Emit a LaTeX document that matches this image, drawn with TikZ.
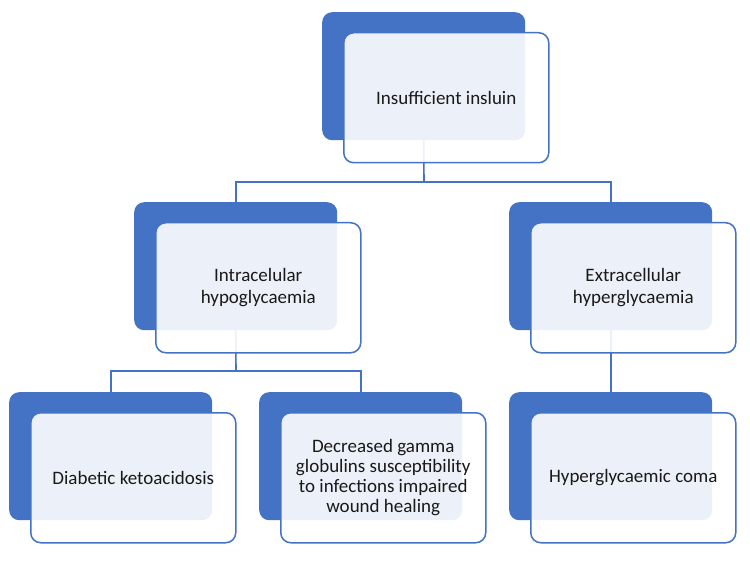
\documentclass[tikz,border=0pt]{standalone}
\usepackage{fontspec}
\setmainfont{Carlito}
\definecolor{sablue}{HTML}{4472C4}
\begin{document}
\begin{tikzpicture}[x=1pt,y=-1pt,
  backbox/.style={rectangle,rounded corners=10pt,fill=sablue,draw=none,
    minimum width=203pt,minimum height=128pt,inner sep=0pt,anchor=north west},
  frontbox/.style={rectangle,rounded corners=10pt,fill=white,fill opacity=0.9,
    text opacity=1,draw=sablue,draw opacity=1,line width=1.5pt,
    minimum width=205pt,minimum height=130pt,inner sep=2pt,anchor=north west,
    align=center,font=\fontsize{19}{22}\selectfont,text=black!90},
  conn/.style={draw=sablue,line width=1.6pt}]
\useasboundingbox (0,0) rectangle (750,572);
% back boxes
\node[backbox] (tb) at (322,12) {};
\node[backbox] (lb) at (134,202) {};
\node[backbox] (rb) at (509,202) {};
\node[backbox] (llb) at (9,392) {};
\node[backbox] (lmb) at (259,392) {};
\node[backbox] (rrb) at (509,392) {};
% connectors
\coordinate (j1) at (424,182);
\coordinate (j2) at (236,371);
\draw[conn] (tb.south) -- (j1);
\draw[conn] (lb.north) |- (j1) -| (rb.north);
\draw[conn] (lb.south) -- (j2);
\draw[conn] (llb.north) |- (j2) -| (lmb.north);
\draw[conn] (rb.south) -- (rrb.north);
% front boxes
\node[frontbox] (t) at (343,32) {Insufficient insluin};
\node[frontbox] (l) at (155,222) {Intracelular\\hypoglycaemia};
\node[frontbox] (r) at (530,222) {Extracellular\\hyperglycaemia};
\node[frontbox] (ll) at (30,412) {Diabetic ketoacidosis};
\node[frontbox,font=\fontsize{19}{20}\selectfont] (lm) at (280,412) {Decreased gamma\\globulins susceptibility\\to infections impaired\\wound healing};
\node[frontbox] (rr) at (530,412) {Hyperglycaemic coma};
\end{tikzpicture}
\end{document}
